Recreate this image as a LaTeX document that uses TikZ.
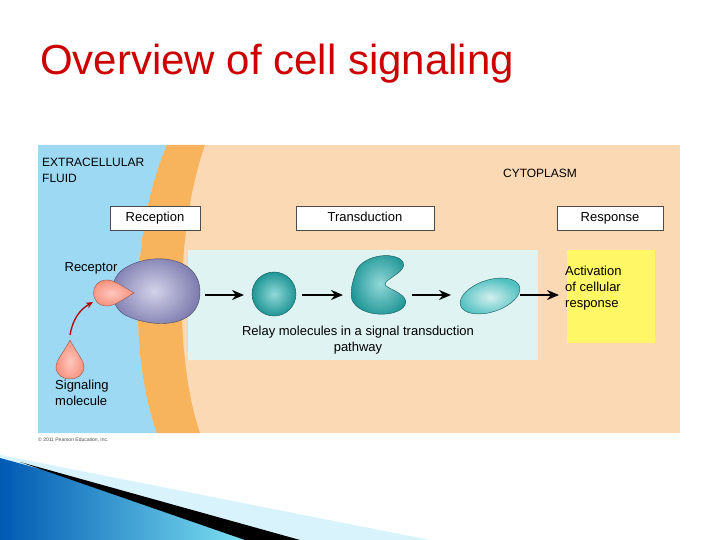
\documentclass[tikz,border=0pt]{standalone}
\usepackage{fontspec}
\setmainfont{Liberation Sans}
\usetikzlibrary{arrows.meta}

\definecolor{fluid}{HTML}{9DD9F3}
\definecolor{membrane}{HTML}{F7B45C}
\definecolor{cyto}{HTML}{FBD9B5}
\definecolor{relaybg}{HTML}{E0F3F3}
\definecolor{teal}{HTML}{25B0B0}
\definecolor{recpurple}{HTML}{9190CC}
\definecolor{ligand}{HTML}{F8907C}
\definecolor{titlered}{HTML}{CC0000}

\tikzset{
  stage/.style={draw=black!70, fill=white, minimum height=24pt, inner sep=0pt, text height=9pt, text depth=2pt, font=\fontsize{13}{14}\selectfont},
  lbl/.style={font=\fontsize{13}{16}\selectfont, inner sep=0pt, align=left},
  relay/.style={-{Stealth[length=12pt,width=10pt]}, line width=2.8pt},
}

\begin{document}
\begin{tikzpicture}[x=1pt, y=-1pt]

\useasboundingbox (0,0) rectangle (720,540);
\fill[white] (0,0) rectangle (720,540);

% title
\node[anchor=west, text=titlered, font=\fontsize{42}{46}\selectfont, inner sep=0pt] (title) at (40,64) {Overview of cell signaling};

% panel
\fill[cyto] (38,145) rectangle (680,433);
\fill[fluid] (38,145) -- (167,145) .. controls (130,230) and (130,360) .. (157,433) -- (38,433) -- cycle;
\fill[membrane] (167,145) .. controls (130,230) and (130,360) .. (157,433) -- (200,433) .. controls (175,360) and (175,230) .. (205,145) -- cycle;
\fill[relaybg] (188,250) rectangle (538,360);
\fill[yellow!60] (567,250) rectangle (655,343);

% stage boxes
\node[stage, minimum width=90pt] (reception) at (155,218) {Reception};
\node[stage, minimum width=138pt] (transduction) at (365,218) {Transduction};
\node[stage, minimum width=106pt] (response) at (610,218) {Response};

% region labels
\node[lbl, anchor=north west, font=\fontsize{12}{16}\selectfont] (fluid) at (42,158) {EXTRACELLULAR\\FLUID};
\node[lbl, font=\fontsize{12}{13}\selectfont] (cytoplasm) at (540,173) {CYTOPLASM};
\node[lbl] (receptorlbl) at (91,268) {Receptor};
\node[lbl, anchor=north west, align=left] (siglbl) at (55,380) {Signaling\\molecule};
\node[lbl, align=center, anchor=north] (relaylbl) at (358,326) {Relay molecules in a signal transduction\\pathway};
\node[lbl, anchor=north west] (actlbl) at (565,266) {Activation\\of cellular\\response};

% receptor
\shade[inner color=recpurple!40, outer color=recpurple!85!black, draw=recpurple!50!black] (125,268) .. controls (150,252) and (200,255) .. (200,292) .. controls (200,330) and (150,328) .. (125,315) .. controls (108,305) and (108,278) .. (125,268) -- cycle;
\shade[inner color=ligand!50, outer color=ligand, draw=ligand!60!black] (107,280) .. controls (115,280) and (125,288) .. (134,293) .. controls (125,298) and (115,306) .. (107,306) .. controls (89,306) and (89,280) .. (107,280) -- cycle;

% signaling molecule
\shade[inner color=ligand!50, outer color=ligand, draw=ligand!60!black] (70,340) .. controls (76,352) and (84,360) .. (84,367) .. controls (84,383) and (56,383) .. (56,367) .. controls (56,360) and (64,352) .. (70,340) -- cycle;
\coordinate (sigtop) at (70,335);
\coordinate (ligbot) at (93,302);
\draw[-{Stealth[length=7pt,width=6pt]}, line width=1.3pt, red!70!black] (sigtop) to[bend left=25] (ligbot);

% relay molecules
\shade[inner color=teal!50, outer color=teal!85!black, draw=teal!50!black] (274,294) circle (22);
\shade[inner color=teal!50, outer color=teal!85!black, draw=teal!50!black] (355,275) .. controls (358,255) and (395,250) .. (403,262) .. controls (408,272) and (385,278) .. (385,285) .. controls (390,290) and (410,295) .. (405,305) .. controls (398,318) and (360,318) .. (352,300) .. controls (350,292) and (352,283) .. (355,275) -- cycle;
\shade[inner color=teal!20, outer color=teal!80, draw=teal!50!black, rotate around={18:(490,296)}] (490,296) ellipse (31 and 16);

% arrows
\coordinate (a1) at (205,295); \coordinate (b1) at (244,295);
\coordinate (a2) at (302,295); \coordinate (b2) at (343,295);
\coordinate (a3) at (412,295); \coordinate (b3) at (451,295);
\coordinate (a4) at (520,295); \coordinate (b4) at (559,295);
\foreach \i in {1,...,4} \draw[relay] (a\i) -- (b\i);

\node[anchor=west, font=\fontsize{5}{6}\selectfont, text=black!70, inner sep=0pt] (copy) at (38,440) {\copyright\ 2011 Pearson Education, Inc.};

% slide decoration
\fill[cyan!15] (0,455) -- (430,540) -- (0,540) -- cycle;
\shade[left color=blue!50!cyan!70!black, right color=cyan!40] (0,458) -- (300,540) -- (0,540) -- cycle;
\fill[black] (20,462) -- (300,540) -- (245,540) -- cycle;

\end{tikzpicture}
\end{document}
